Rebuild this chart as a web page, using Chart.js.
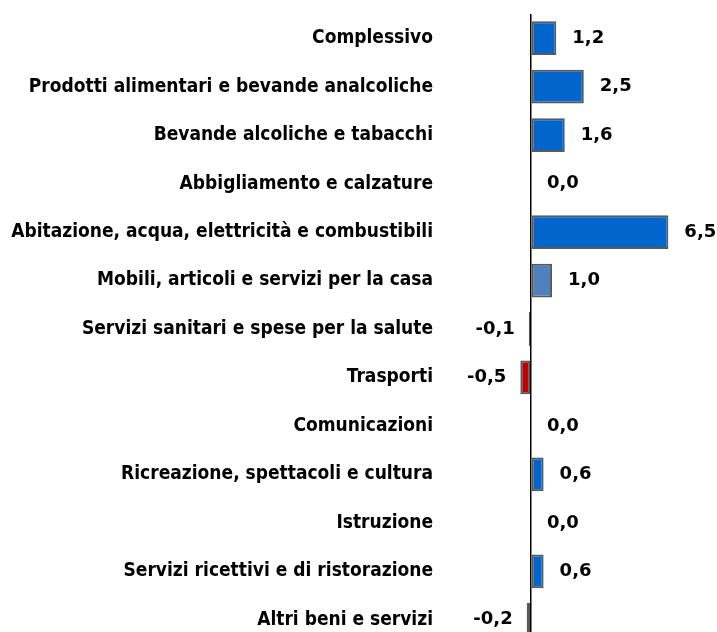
<!DOCTYPE html>
<html>
<head>
<meta charset="utf-8">
<script src="https://cdn.jsdelivr.net/npm/chart.js@4"></script>
<style>
  html, body { margin: 0; padding: 0; background: #fff; overflow: hidden; }
  #wrap { width: 717px; height: 645px; }
</style>
</head>
<body>
<div id="wrap"><canvas id="chart-inflazione"></canvas></div>
<script>
const categories = [
    'Complessivo',
    'Prodotti alimentari e bevande analcoliche',
    'Bevande alcoliche e tabacchi',
    'Abbigliamento e calzature',
    'Abitazione, acqua, elettricità e combustibili',
    'Mobili, articoli e servizi per la casa',
    'Servizi sanitari e spese per la salute',
    'Trasporti',
    'Comunicazioni',
    'Ricreazione, spettacoli e cultura',
    'Istruzione',
    'Servizi ricettivi e di ristorazione',
    'Altri beni e servizi'
];
const values = [1.2, 2.5, 1.6, 0.0, 6.5, 1.0, -0.1, -0.5, 0.0, 0.6, 0.0, 0.6, -0.2];
const barColors = ['#0066CC', '#0066CC', '#0066CC', '#0066CC', '#0066CC', '#4F81BD', '#C00000',
    '#C00000', '#0066CC', '#0066CC', '#0066CC', '#0066CC', '#C00000'];

// value labels next to the bars, Italian decimal comma
const valueLabels = {
    id: 'valueLabels',
    afterDatasetsDraw(chart) {
        const ctx = chart.ctx;
        const meta = chart.getDatasetMeta(0);
        const xScale = chart.scales.x;
        ctx.save();
        ctx.font = 'bold 18px "DejaVu Sans"';
        ctx.fillStyle = '#000';
        ctx.textBaseline = 'middle';
        meta.data.forEach((bar, i) => {
            const v = values[i];
            const txt = v.toFixed(1).replace('.', ',');
            const end = xScale.getPixelForValue(v);
            if (v < 0) {
                ctx.textAlign = 'right';
                ctx.fillText(txt, end - 14, bar.y);
            } else {
                ctx.textAlign = 'left';
                ctx.fillText(txt, end + 16, bar.y);
            }
        });
        ctx.restore();
    }
};

new Chart(document.getElementById('chart-inflazione'), {
    type: 'bar',
    data: {
        labels: categories,
        datasets: [{
            data: values,
            backgroundColor: barColors,
            borderColor: '#595959',
            borderWidth: 2,
            borderSkipped: false,
            barPercentage: 0.84,
            categoryPercentage: 0.83
        }]
    },
    options: {
        indexAxis: 'y',
        responsive: true,
        maintainAspectRatio: false,
        animation: false,
        layout: { padding: { top: 14, bottom: 1, left: 0, right: 0 } },
        scales: {
            x: {
                min: -4.3,
                max: 8.8,
                border: { display: false },
                ticks: { display: false, stepSize: 0.1 },
                grid: {
                    drawTicks: false,
                    color: (c) => (c.tick && Math.abs(c.tick.value) < 1e-9 ? '#000' : 'rgba(0,0,0,0)'),
                    lineWidth: 1.5
                },
                afterFit(scale) { scale.height = 0; }
            },
            y: {
                border: { display: false },
                grid: { display: false, drawTicks: false },
                ticks: {
                    color: '#000',
                    padding: 7,
                    font: { family: '"DejaVu Sans Condensed"', weight: 'bold', size: 19 }
                },
                afterFit(scale) {
                    scale.width = 440;
                    scale.paddingTop = 0;
                    scale.paddingBottom = 0;
                }
            }
        },
        plugins: {
            legend: { display: false },
            tooltip: { enabled: false }
        }
    },
    plugins: [valueLabels]
});
</script>
</body>
</html>
